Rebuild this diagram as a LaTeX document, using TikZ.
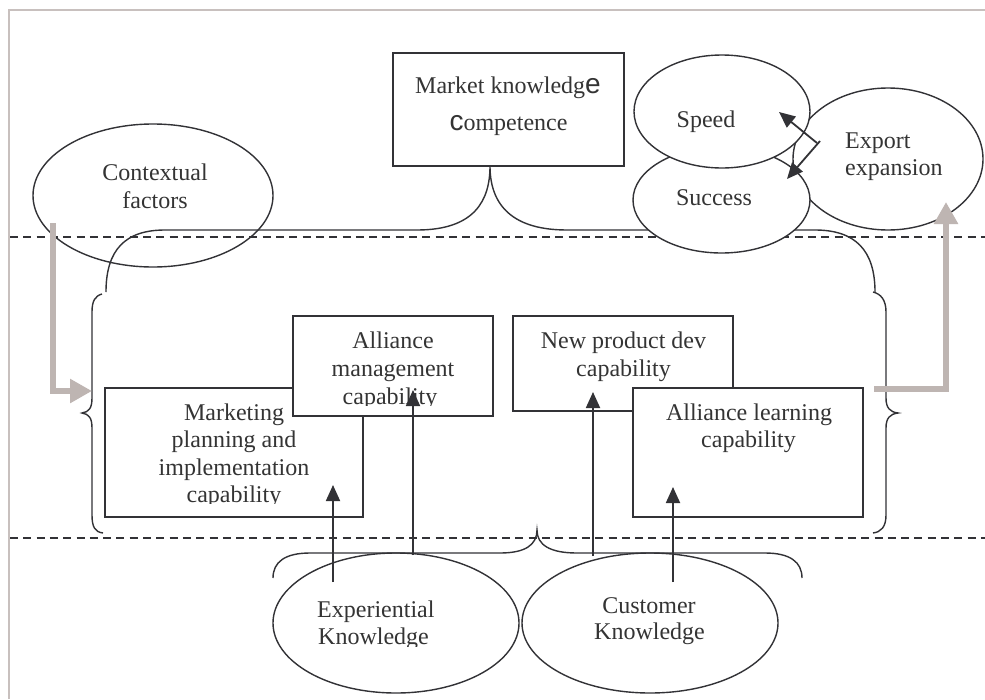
\documentclass[tikz,border=0pt]{standalone}
\usepackage{fontspec}
\setmainfont{Liberation Serif}
\newfontfamily\bigsans{Liberation Sans}
\usetikzlibrary{shapes.geometric,arrows.meta}
\definecolor{ink}{RGB}{50,50,54}
\definecolor{txt}{RGB}{52,52,52}
\definecolor{flow}{RGB}{190,181,178}
\definecolor{framec}{RGB}{200,192,190}
\newcommand{\enl}[1]{{\bigsans\fontsize{28}{28}\selectfont #1}}
\begin{document}
\begin{tikzpicture}[x=1pt,y=-1pt,
  box/.style={draw=ink, line width=1.6pt, rectangle, inner sep=0pt, fill=white},
  ell/.style={draw=ink, line width=1.4pt, ellipse, inner sep=0pt},
  lbl/.style={inner sep=0pt, anchor=base, text=txt, font=\fontsize{24}{24}\selectfont},
  lblw/.style={lbl, anchor=base west},
  brace/.style={draw=ink, line width=1.4pt},
  sepline/.style={draw=ink, line width=1.5pt, dash pattern=on 8pt off 5.3pt},
  arr/.style={draw=ink, line width=1.8pt, -{Triangle[length=16pt,width=14pt]}},
  flowarr/.style={draw=flow, line width=6.5pt, -{Triangle[length=22pt,width=23pt]}},
]
\useasboundingbox (0,0) rectangle (985,699);
\fill[white] (0,0) rectangle (985,699);

% page frame
\draw[framec, line width=2pt] (9,699) -- (9,10) -- (985,10);

% level separators
\draw[sepline] (10,237) -- (985,237);
\draw[sepline] (10,538) -- (985,538);

% braces
\draw[brace] (106,292) .. controls (106,250) and (125,230) .. (165,230) -- (417,230)
  .. controls (475,230) and (490,200) .. (490,166)
  .. controls (490,200) and (507,230) .. (567,230) -- (815,230)
  .. controls (855,230) and (875,250) .. (875,292);
\draw[brace] (102,294) .. controls (95,296) and (92,301) .. (92,312) -- (92,398)
  .. controls (92,408) and (89,412) .. (82,413)
  .. controls (89,414) and (92,418) .. (92,428) -- (92,515)
  .. controls (92,527) and (95,532) .. (103,533);
\draw[brace] (873,292) .. controls (881,294) and (886,300) .. (886,312) -- (886,398)
  .. controls (886,408) and (890,412) .. (898,413)
  .. controls (890,414) and (886,418) .. (886,428) -- (886,515)
  .. controls (886,527) and (881,532) .. (873,533);
\draw[brace] (273,578) .. controls (273,562) and (285,553) .. (310,553) -- (500,553)
  .. controls (525,553) and (537,545) .. (537,530)
  .. controls (537,545) and (550,553) .. (577,553) -- (765,553)
  .. controls (790,553) and (802,562) .. (802,578);

% ellipses
\node[ell, minimum width=240pt, minimum height=143pt] (ctx) at (153,195.5) {};
\node[ell, minimum width=246pt, minimum height=140pt] (exp) at (396,623) {};
\node[ell, minimum width=256pt, minimum height=140pt] (cus) at (650,623) {};
\node[ell, minimum width=190pt, minimum height=142pt] (expn) at (888,159) {};
\node[ell, fill=white, minimum width=177pt, minimum height=106pt] (succ) at (721.5,200) {};
\node[ell, fill=white, minimum width=176pt, minimum height=113pt] (speed) at (722,111.5) {};

% boxes
\node[box, minimum width=231pt, minimum height=113pt] (mkc) at (508.5,109.5) {};
\node[box, minimum width=258pt, minimum height=129pt] (mpi) at (234,452.5) {};
\node[box, minimum width=200pt, minimum height=100pt] (amc) at (393,366) {};
\node[box, minimum width=220pt, minimum height=95pt] (npd) at (623,363.5) {};
\node[box, minimum width=230pt, minimum height=129pt] (alc) at (748,452.5) {};

% labels
\node[lbl] (mkc1) at (508,93) {Market knowledg\enl{e}};
\node[lbl] (mkc2) at (508.5,130) {\enl{c}ompetence};
\node[lbl] (ctx1) at (155,180) {Contextual};
\node[lbl] (ctx2) at (155,208) {factors};
\node[lbl] (spd1) at (706,127) {Speed};
\node[lbl] (suc1) at (714,205) {Success};
\node[lblw] (exn1) at (845,148) {Export};
\node[lblw] (exn2) at (845,175) {expansion};

\node[lbl] (mpi1) at (234,420) {Marketing};
\node[lbl] (mpi2) at (234,447.5) {planning and};
\node[lbl] (mpi3) at (234,475) {implementation};
\begin{scope}
  \clip (110,480) rectangle (360,503.5);
  \node[lbl] (mpi4) at (234,502.5) {capability};
\end{scope}

\node[lbl] (amc1) at (393,348) {Alliance};
\node[lbl] (amc2) at (393,376) {management};
\begin{scope}
  \clip (300,380) rectangle (490,405.5);
  \node[lbl] (amc3) at (390,404) {capability};
\end{scope}

\node[lbl] (npd1) at (623.5,348) {New product dev};
\node[lbl] (npd2) at (623.5,376) {capability};
\node[lbl] (alc1) at (749,420) {Alliance learning};
\node[lbl] (alc2) at (748.5,447) {capability};

\node[lblw] (exp1) at (317,617) {Experiential};
\begin{scope}
  \clip (300,620) rectangle (450,646);
  \node[lblw] (exp2) at (318,644) {Knowledge};
\end{scope}
\node[lbl] (cus1) at (649,613) {Customer};
\node[lbl] (cus2) at (649.5,639) {Knowledge};

% knowledge arrows
\coordinate (e1) at (333,582);  \coordinate (t1) at (333,485);
\coordinate (e2) at (413,555);  \coordinate (t2) at (413,390);
\coordinate (c1) at (593,556);  \coordinate (t3) at (593,392);
\coordinate (c2) at (673,582);  \coordinate (t4) at (673,487);
\draw[arr] (e1) -- (t1);
\draw[arr] (e2) -- (t2);
\draw[arr] (c1) -- (t3);
\draw[arr] (c2) -- (t4);

% export expansion arrows
\coordinate (xs1) at (817,143); \coordinate (sp) at (779,112);
\coordinate (xs2) at (820,141); \coordinate (su) at (787,179);
\draw[arr] (xs1) -- (sp);
\draw[arr] (xs2) -- (su);

% flow arrows
\coordinate (cfout) at (53,223); \coordinate (cfin) at (92,391);
\draw[flowarr] (cfout) |- (cfin);
\coordinate (exout) at (874,389); \coordinate (exin) at (946,202);
\draw[flowarr] (exout) -| (exin);
\end{tikzpicture}
\end{document}
